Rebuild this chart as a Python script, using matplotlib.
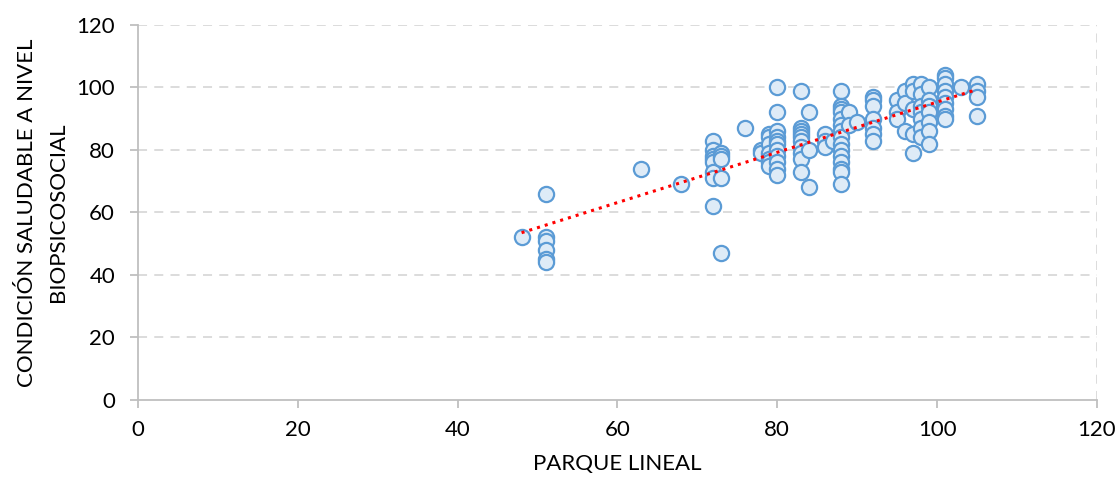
import numpy as np
import matplotlib
matplotlib.use("Agg")
import matplotlib.pyplot as plt

plt.rcParams["font.family"] = ["Lato", "DejaVu Sans"]

# valores: x = parque lineal, y = condición saludable
parque = [48,
          51, 51, 51, 51, 51, 51,
          63, 68,
          72, 72, 72, 72, 72, 72, 72, 72,
          73, 73, 73, 73, 73,
          76, 78, 78,
          79, 79, 79, 79, 79, 79, 79,
          80, 80, 80, 80, 80, 80, 80, 80, 80, 80, 80,
          83, 83, 83, 83, 83, 83, 83, 83, 83, 83,
          84, 84, 84,
          86, 86, 86, 87,
          88, 88, 88, 88, 88, 88, 88, 88, 88, 88, 88, 88, 88, 88, 88,
          89, 89, 90,
          92, 92, 92, 92, 92, 92, 92,
          95, 95, 95,
          96, 96, 96,
          97, 97, 97, 97, 97,
          98, 98, 98, 98, 98, 98, 98,
          99, 99, 99, 99, 99, 99, 99,
          101, 101, 101, 101, 101, 101, 101, 101, 101,
          103,
          105, 105, 105, 105]
condicion = [52,
             66, 52, 51, 48, 45, 44,
             74, 69,
             83, 80, 78, 77, 76, 73, 71, 62,
             79, 78, 77, 71, 47,
             87, 80, 79,
             85, 84, 82, 79, 77, 76, 75,
             100, 92, 86, 84, 83, 82, 80, 78, 76, 74, 72,
             99, 87, 86, 85, 84, 83, 81, 79, 77, 73,
             92, 80, 68,
             85, 83, 81, 83,
             99, 94, 93, 92, 90, 88, 86, 84, 82, 80, 78, 76, 74, 73, 69,
             92, 88, 89,
             97, 96, 94, 90, 87, 85, 83,
             96, 92, 90,
             99, 95, 86,
             101, 99, 93, 85, 79,
             101, 98, 94, 92, 90, 87, 84,
             100, 96, 94, 92, 89, 86, 82,
             104, 103, 101, 99, 97, 95, 93, 91, 90,
             100,
             101, 99, 97, 91]

x_ticks = [0, 20, 40, 60, 80, 100, 120]
y_ticks = [0, 20, 40, 60, 80, 100, 120]

GRID = "#D9D9D9"
AXIS = "#BFBFBF"
FS = 16

fig = plt.figure(figsize=(11.18, 4.8), dpi=100)
ax = fig.add_axes([0.1234, 0.1667, 0.8578, 0.7813])

ax.set_xlim(0, 120)
ax.set_ylim(0, 120)
ax.set_xticks(x_ticks)
ax.set_yticks(y_ticks)

for yv in y_ticks[1:]:
    ax.axhline(yv, color=GRID, lw=1.3, ls=(0, (5, 4)), zorder=0)
ax.axvline(120, color=GRID, lw=1.3, ls=(0, (5, 4)), zorder=0)

ax.scatter(parque, condicion, s=120, facecolor="#DEEBF7", edgecolor="#5B9BD5",
           linewidth=1.6, zorder=3)

# línea de tendencia lineal
m, b = np.polyfit(parque, condicion, 1)
xs = np.array([min(parque), max(parque)])
ax.plot(xs, m * xs + b, color="#FF0000", lw=2.2, ls=":", zorder=4)

for side in ["top", "right"]:
    ax.spines[side].set_visible(False)
for side in ["left", "bottom"]:
    ax.spines[side].set_color(AXIS)
    ax.spines[side].set_linewidth(1.3)

ax.tick_params(axis="both", colors=AXIS, length=5.5, width=1.3, labelsize=FS,
               labelcolor="black")
ax.tick_params(axis="x", pad=9)
ax.tick_params(axis="y", pad=11)

ax.set_xlabel("PARQUE LINEAL", fontsize=FS, labelpad=10)
ax.set_ylabel("CONDICIÓN SALUDABLE A NIVEL\nBIOPSICOSOCIAL", fontsize=FS,
              labelpad=6, linespacing=1.7)

fig.savefig("out.png", dpi=100, facecolor="white")
plt.close()
